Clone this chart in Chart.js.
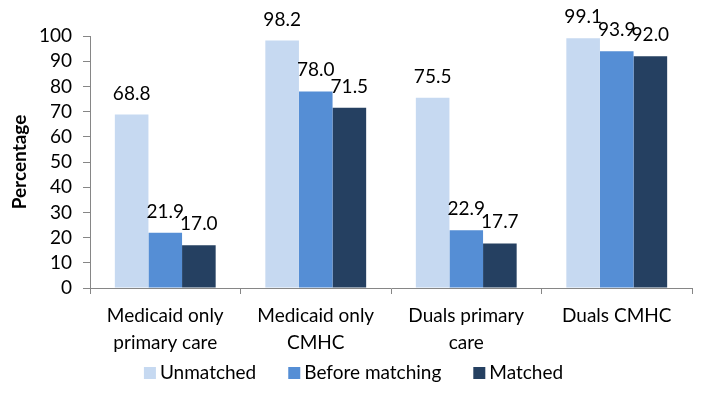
<!DOCTYPE html>
<html>
<head>
<meta charset="utf-8">
<script src="https://cdn.jsdelivr.net/npm/chart.js@4"></script>
<style>
html,body{margin:0;padding:0;background:#fff;}
#wrap{width:707px;height:396px;}
</style>
</head>
<body>
<div id="wrap"><canvas id="c" width="707" height="396"></canvas></div>
<script>
const categories = [["Medicaid only","primary care"],["Medicaid only","CMHC"],["Duals primary","care"],["Duals CMHC"]];
const unmatched = [68.8, 98.2, 75.5, 99.1];
const beforeMatching = [21.9, 78.0, 22.9, 93.9];
const matched = [17.0, 71.5, 17.7, 92.0];
const yTicks = [0,10,20,30,40,50,60,70,80,90,100];

const FONT = "Lato, 'Open Sans', sans-serif";
const FS = 19;

const labelPlugin = {
  id: 'barLabels',
  afterDatasetsDraw(chart) {
    const ctx = chart.ctx;
    ctx.save();
    ctx.font = FS + "px " + FONT;
    ctx.fillStyle = "#000";
    ctx.textAlign = "center";
    ctx.textBaseline = "alphabetic";
    chart.data.datasets.forEach((ds, i) => {
      const meta = chart.getDatasetMeta(i);
      meta.data.forEach((bar, j) => {
        ctx.fillText(ds.data[j].toFixed(1), bar.x, bar.y - 15);
      });
    });
    ctx.restore();
  }
};

const legendPlugin = {
  id: 'customLegend',
  afterDraw(chart) {
    const ctx = chart.ctx;
    ctx.save();
    ctx.font = FS + "px " + FONT;
    ctx.textBaseline = "middle";
    ctx.textAlign = "left";
    const box = 12, gapBox = 4, gapItem = 32;
    const items = chart.data.datasets.map(ds => ({label: ds.label, color: ds.backgroundColor, w: ctx.measureText(ds.label).width}));
    let total = 0;
    items.forEach((it, i) => { total += box + gapBox + it.w + (i < items.length - 1 ? gapItem : 0); });
    let x = chart.width / 2 - total / 2;
    const y = 373;
    items.forEach(it => {
      ctx.fillStyle = it.color;
      ctx.fillRect(x, y - box / 2, box, box);
      ctx.fillStyle = "#000";
      ctx.fillText(it.label, x + box + gapBox, y);
      x += box + gapBox + it.w + gapItem;
    });
    ctx.restore();
  }
};

new Chart(document.getElementById('c'), {
  type: 'bar',
  data: {
    labels: categories,
    datasets: [
      {label: 'Unmatched', data: unmatched, backgroundColor: '#C6D9F1'},
      {label: 'Before matching', data: beforeMatching, backgroundColor: '#558ED5'},
      {label: 'Matched', data: matched, backgroundColor: '#254061'}
    ]
  },
  options: {
    responsive: false,
    animation: false,
    devicePixelRatio: 1,
    layout: {padding: {top: 36, right: 15, left: 0, bottom: 40}},
    datasets: {bar: {categoryPercentage: 0.67, barPercentage: 1.0}},
    plugins: {
      legend: {display: false},
      tooltip: {enabled: false}
    },
    scales: {
      x: {
        grid: {display: true, drawOnChartArea: false, offset: true, tickLength: 6, color: '#868686'},
        border: {color: '#868686'},
        ticks: {font: {family: FONT, size: FS, lineHeight: 1.42}, color: '#000', maxRotation: 0, padding: 8},
        afterFit(s) { s.height = 68; }
      },
      y: {
        min: 0, max: 100,
        afterBuildTicks(s) { s.ticks = yTicks.map(v => ({value: v})); },
        grid: {display: true, drawOnChartArea: false, tickLength: 7, color: '#868686'},
        border: {color: '#868686'},
        ticks: {font: {family: FONT, size: FS}, color: '#000', padding: 11, autoSkip: false},
        title: {display: true, text: 'Percentage', font: {family: FONT, size: 19, weight: 'bold'}, color: '#000', padding: {top: 8, bottom: 10}},
        afterFit(s) { s.width = 90; }
      }
    }
  },
  plugins: [labelPlugin, legendPlugin]
});
</script>
</body>
</html>
